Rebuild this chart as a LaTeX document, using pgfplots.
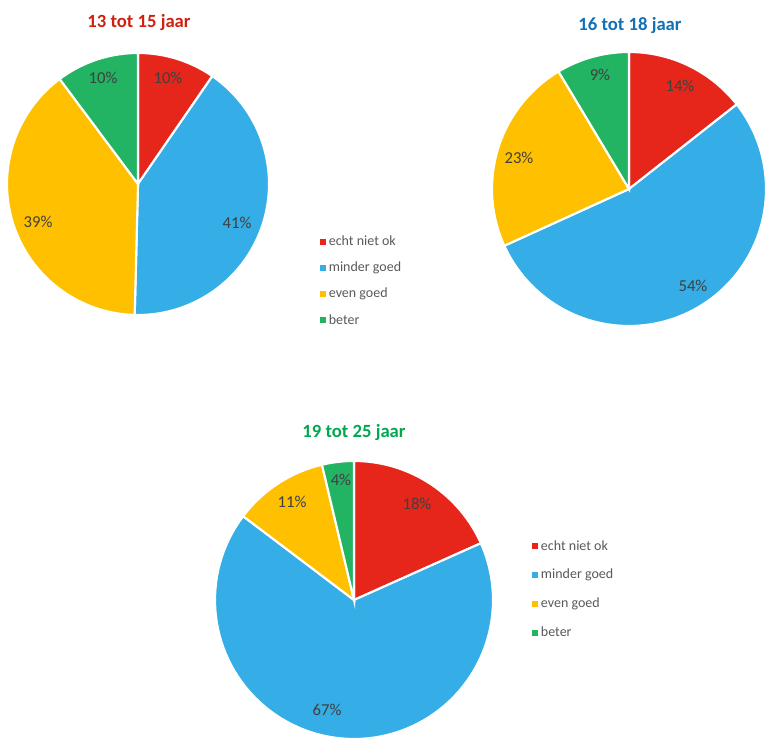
\documentclass[border=0pt]{standalone}
\usepackage{fontspec}
\setmainfont{Carlito}
\usepackage{pgfplots}
\pgfplotsset{compat=1.18}
\definecolor{cRed}{HTML}{E6261A}
\definecolor{cBlue}{HTML}{35ADE6}
\definecolor{cYellow}{HTML}{FFC000}
\definecolor{cGreen}{HTML}{22B363}
\definecolor{tRed}{HTML}{D0200F}
\definecolor{tBlue}{HTML}{1270B8}
\definecolor{tGreen}{HTML}{00A850}
\definecolor{cLab}{HTML}{404040}
\definecolor{cLeg}{HTML}{595959}
\newcommand{\pieslices}[4]{%
  \pgfmathsetmacro\Aa{90}%
  \pgfmathsetmacro\Ab{90-3.6*#1}%
  \pgfmathsetmacro\Ac{\Ab-3.6*#2}%
  \pgfmathsetmacro\Ad{\Ac-3.6*#3}%
  \pgfmathsetmacro\Ae{\Ad-3.6*#4}%
  \addplot[fill=cRed,draw=white,line width=1.6pt,domain=\Ab:\Aa,samples=60] ({cos(x)},{sin(x)}) -- (axis cs:0,0) -- cycle;
  \addplot[fill=cBlue,draw=white,line width=1.6pt,domain=\Ac:\Ab,samples=90] ({cos(x)},{sin(x)}) -- (axis cs:0,0) -- cycle;
  \addplot[fill=cYellow,draw=white,line width=1.6pt,domain=\Ad:\Ac,samples=90] ({cos(x)},{sin(x)}) -- (axis cs:0,0) -- cycle;
  \addplot[fill=cGreen,draw=white,line width=1.6pt,domain=\Ae:\Ad,samples=60] ({cos(x)},{sin(x)}) -- (axis cs:0,0) -- cycle;
}
\pgfplotsset{
  pieaxis/.style={
    scale only axis, axis lines=none, clip=false,
    xmin=-1,xmax=1,ymin=-1,ymax=1,
    xtick=\empty, ytick=\empty,
    anchor=center,
    legend image code/.code={\fill[##1,draw=none] (0pt,-2.25pt) rectangle (4.5pt,2.25pt);},
  },
}
\tikzset{lab/.style={font=\fontsize{12.5}{14}\selectfont, text=cLab}}
\begin{document}
\begin{tikzpicture}
\path[use as bounding box] (0,0) rectangle (583.5pt,562.5pt);
% titles
\node[font=\fontsize{14}{16}\selectfont\bfseries, text=tRed] at (104.25pt,545.5pt) {13 tot 15 jaar};
\node[font=\fontsize{14}{16}\selectfont\bfseries, text=tBlue] at (472.5pt,543.5pt) {16 tot 18 jaar};
\node[font=\fontsize{14}{16}\selectfont\bfseries, text=tGreen] at (265.5pt,238pt) {19 tot 25 jaar};
% pie 1
\begin{axis}[pieaxis, at={(103.5pt,424.5pt)}, width=196.5pt, height=196.5pt,
  legend style={draw=none, fill=none, at={(axis description cs:1.179,0.323)}, anchor=north west,
    font=\fontsize{10.5}{12}\selectfont, text=cLeg, row sep=6.8pt,
    /tikz/every even column/.append style={column sep=2pt}},
  legend cell align=left]
\pieslices{9.6}{40.8}{39.4}{10.2}
\legend{echt niet ok, minder goed, even goed, beter}
\node[lab] at (axis cs:0.229,0.809) {10\%};
\node[lab] at (axis cs:0.756,-0.298) {41\%};
\node[lab] at (axis cs:-0.763,-0.290) {39\%};
\node[lab] at (axis cs:-0.267,0.809) {10\%};
\end{axis}
% pie 2
\begin{axis}[pieaxis, at={(471.75pt,420.75pt)}, width=205.5pt, height=205.5pt]
\pieslices{14.4}{53.8}{23.2}{8.6}
\node[lab] at (axis cs:0.372,0.752) {14\%};
\node[lab] at (axis cs:0.467,-0.708) {54\%};
\node[lab] at (axis cs:-0.803,0.226) {23\%};
\node[lab] at (axis cs:-0.212,0.832) {9\%};
\end{axis}
% pie 3
\begin{axis}[pieaxis, at={(265.5pt,112.5pt)}, width=208.5pt, height=208.5pt,
  legend style={draw=none, fill=none, at={(axis description cs:1.126,0.734)}, anchor=north west,
    font=\fontsize{10.5}{12}\selectfont, text=cLeg, row sep=8.75pt,
    /tikz/every even column/.append style={column sep=2pt}},
  legend cell align=left]
\pieslices{18.3}{67.0}{11.0}{3.7}
\legend{echt niet ok, minder goed, even goed, beter}
\node[lab] at (axis cs:0.453,0.691) {18\%};
\node[lab] at (axis cs:-0.194,-0.791) {67\%};
\node[lab] at (axis cs:-0.446,0.705) {11\%};
\node[lab] at (axis cs:-0.094,0.863) {4\%};
\end{axis}
\end{tikzpicture}
\end{document}
